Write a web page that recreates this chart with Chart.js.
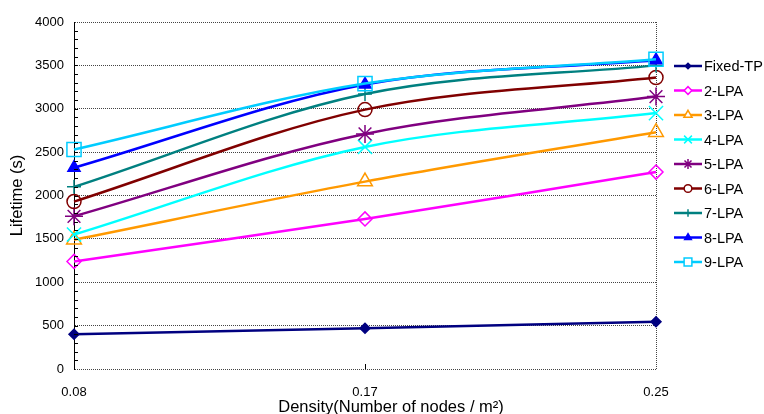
<!DOCTYPE html>
<html>
<head>
<meta charset="utf-8">
<script src="https://cdn.jsdelivr.net/npm/chart.js@4.4.1/dist/chart.umd.min.js"></script>
<style>
  html, body { margin: 0; padding: 0; background: #fff; overflow: hidden; }
  #wrap { width: 764px; height: 414px; }
</style>
</head>
<body>
<div id="wrap"><canvas id="chartLifetime" width="764" height="414"></canvas></div>
<script>
// Categorias (densidade) e series
const densidades = ['0.08', '0.17', '0.25'];
const yTicks = [0, 500, 1000, 1500, 2000, 2500, 3000, 3500, 4000];

const fixedTP = [400, 470, 545];
const lpa2 = [1240, 1730, 2270];
const lpa3 = [1490, 2160, 2730];
const lpa4 = [1550, 2560, 2950];
const lpa5 = [1760, 2710, 3140];
const lpa6 = [1930, 2990, 3360];
const lpa7 = [2100, 3170, 3500];
const lpa8 = [2320, 3280, 3560];
const lpa9 = [2530, 3290, 3570];

const FONT = "'Liberation Sans', Arial, sans-serif";

// nome, dados, cor, estilo do marcador, raio, preenchido
const SERIES = [
  ['Fixed-TP', fixedTP, '#000080', 'rectRot', 5, true],
  ['2-LPA', lpa2, '#ff00ff', 'rectRot', 7, false],
  ['3-LPA', lpa3, '#ff9900', 'triangle', 8.5, false],
  ['4-LPA', lpa4, '#00ffff', 'crossRot', 10, false],
  ['5-LPA', lpa5, '#800080', 'star', 9, false],
  ['6-LPA', lpa6, '#800000', 'circle', 7, false],
  ['7-LPA', lpa7, '#008080', 'cross', 7, false],
  ['8-LPA', lpa8, '#0000ff', 'triangle', 7, true],
  ['9-LPA', lpa9, '#00ccff', 'rect', 10, false]
];

/**
 * Legenda desenhada à direita (linha + marcador)
 */
const legendaPlugin = {
  id: 'legendaLinha',
  afterDraw(chart) {
    const ctx = chart.ctx;
    ctx.save();
    chart.data.datasets.forEach(function(ds, i) {
      const y = 66 + i * 24.5;
      ctx.strokeStyle = ds.borderColor;
      ctx.lineWidth = 2.5;
      ctx.beginPath();
      ctx.moveTo(674, y);
      ctx.lineTo(702, y);
      ctx.stroke();
      ctx.fillStyle = ds.pointBackgroundColor === 'transparent' ? '#ffffff' : ds.pointBackgroundColor;
      ctx.strokeStyle = ds.borderColor;
      ctx.lineWidth = 1.5;
      Chart.helpers.drawPoint(ctx, {
        pointStyle: ds.pointStyle,
        radius: ds.pointRadius * 0.55,
        rotation: 0,
        borderWidth: 1.5
      }, 688, y);
      ctx.fillStyle = '#000';
      ctx.font = '14.5px ' + FONT;
      ctx.textBaseline = 'middle';
      ctx.textAlign = 'left';
      ctx.fillText(ds.label, 704, y + 1);
    });
    ctx.restore();
  }
};

/**
 * Ticks menores no eixo Y, tick em 0.17 e titulo do eixo X
 */
const eixosPlugin = {
  id: 'eixosExtras',
  afterDraw(chart) {
    const ctx = chart.ctx;
    const y = chart.scales.y;
    const x = chart.scales.x;
    const area = chart.chartArea;
    ctx.save();
    ctx.strokeStyle = '#000';
    ctx.lineWidth = 1;
    ctx.beginPath();
    for (let v = 100; v < 4000; v += 100) {
      const py = Math.round(y.getPixelForValue(v)) + 0.5;
      ctx.moveTo(area.left, py);
      ctx.lineTo(area.left + 4, py);
    }
    const px = Math.round(x.getPixelForValue(1)) + 0.5;
    ctx.moveTo(px, area.bottom);
    ctx.lineTo(px, area.bottom - 5);
    ctx.stroke();

    ctx.fillStyle = '#000';
    ctx.font = '16.5px ' + FONT;
    ctx.textAlign = 'center';
    ctx.textBaseline = 'middle';
    ctx.fillText('Density(Number of nodes / m\u00b2)', 391, 407);
    ctx.restore();
  }
};

const ctx = document.getElementById('chartLifetime');

new Chart(ctx, {
  type: 'line',
  data: {
    labels: densidades,
    datasets: SERIES.map(function(s, i) {
      return {
        label: s[0],
        data: s[1],
        borderColor: s[2],
        backgroundColor: s[2],
        borderWidth: 2.5,
        tension: 0.33,
        pointStyle: s[3],
        pointRadius: s[4],
        pointBorderWidth: 1.5,
        pointBorderColor: s[2],
        pointBackgroundColor: s[5] ? s[2] : 'transparent',
        fill: false,
        clip: false,
        order: SERIES.length - i
      };
    })
  },
  options: {
    responsive: false,
    animation: false,
    devicePixelRatio: 1,
    layout: { padding: { top: 22, right: 108, left: 0, bottom: 0 } },
    plugins: {
      legend: { display: false },
      tooltip: { enabled: false }
    },
    scales: {
      x: {
        offset: false,
        afterFit: function(scale) { scale.height = 45; },
        ticks: {
          color: '#000',
          padding: 16,
          maxRotation: 0,
          font: { family: FONT, size: 13 }
        },
        grid: {
          drawTicks: false,
          color: function(c) { return c.index === 2 ? '#444' : 'rgba(0,0,0,0)'; },
          lineWidth: 1
        },
        border: { display: false, dash: [1, 1] }
      },
      y: {
        min: 0,
        max: 4000,
        afterFit: function(scale) { scale.width = 74; },
        afterBuildTicks: function(scale) {
          scale.ticks = yTicks.map(function(v) { return { value: v }; });
        },
        ticks: {
          color: '#000',
          padding: 10,
          font: { family: FONT, size: 13 },
          callback: function(v) { return String(v); }
        },
        grid: {
          drawTicks: false,
          color: '#444',
          lineWidth: 1
        },
        border: { display: true, color: '#000', width: 1, dash: [1, 1] },
        title: {
          display: true,
          text: 'Lifetime (s)',
          color: '#000',
          padding: { top: 8, bottom: 0 },
          font: { family: FONT, size: 16.5 }
        }
      }
    }
  },
  plugins: [legendaPlugin, eixosPlugin]
});
</script>
</body>
</html>
